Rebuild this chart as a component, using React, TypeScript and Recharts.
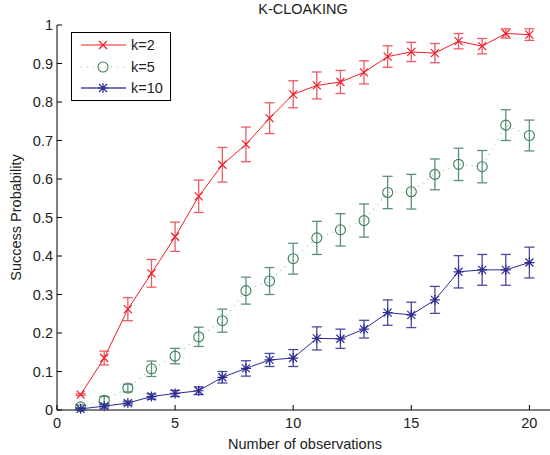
import { LineChart, Line, XAxis, YAxis, ErrorBar } from "recharts";

// observations 1..20
const observations = [1, 2, 3, 4, 5, 6, 7, 8, 9, 10, 11, 12, 13, 14, 15, 16, 17, 18, 19, 20];

const k2 = [0.04, 0.135, 0.262, 0.355, 0.45, 0.555, 0.637, 0.69, 0.758, 0.82, 0.843, 0.852, 0.877, 0.918, 0.93, 0.927, 0.958, 0.945, 0.978, 0.975];
const k2Err = [0.002, 0.018, 0.03, 0.036, 0.038, 0.042, 0.045, 0.045, 0.04, 0.035, 0.035, 0.03, 0.03, 0.028, 0.025, 0.025, 0.02, 0.02, 0.012, 0.015];

const k5 = [0.008, 0.025, 0.057, 0.107, 0.14, 0.19, 0.232, 0.31, 0.335, 0.393, 0.447, 0.468, 0.492, 0.565, 0.567, 0.612, 0.638, 0.632, 0.74, 0.713];
const k5Err = [0.005, 0.01, 0.01, 0.02, 0.02, 0.025, 0.03, 0.035, 0.035, 0.04, 0.043, 0.042, 0.043, 0.042, 0.045, 0.04, 0.042, 0.042, 0.04, 0.04];

const k10 = [0.003, 0.01, 0.018, 0.035, 0.043, 0.05, 0.085, 0.108, 0.13, 0.135, 0.186, 0.185, 0.21, 0.253, 0.247, 0.286, 0.359, 0.364, 0.364, 0.383];
const k10Err = [0.003, 0.005, 0.005, 0.007, 0.008, 0.01, 0.015, 0.02, 0.017, 0.022, 0.03, 0.025, 0.023, 0.033, 0.033, 0.035, 0.042, 0.04, 0.04, 0.04];

const xTicks = [0, 5, 10, 15, 20];
const yTicks = [0, 0.1, 0.2, 0.3, 0.4, 0.5, 0.6, 0.7, 0.8, 0.9, 1];

const data = observations.map((x, i) => ({
  x,
  k2: k2[i],
  k2Err: k2Err[i],
  k5: k5[i],
  k5Err: k5Err[i],
  k10: k10[i],
  k10Err: k10Err[i],
}));

const FONT = '"Liberation Sans", Arial, Helvetica, sans-serif';
const FS = 14.5;
const RED = "#ee1d25";
const GREEN = "#3f7f5c";
const BLUE = "#2c2c92";

function Cross({ cx, cy, color }: { cx: number; cy: number; color: string }) {
  const s = 4;
  return (
    <path
      d={`M${cx - s},${cy - s}L${cx + s},${cy + s}M${cx - s},${cy + s}L${cx + s},${cy - s}`}
      stroke={color}
      strokeWidth={1.2}
      fill="none"
    />
  );
}

function Ring({ cx, cy, color }: { cx: number; cy: number; color: string }) {
  return <circle cx={cx} cy={cy} r={5} stroke={color} strokeWidth={1.1} fill="none" />;
}

function Star({ cx, cy, color }: { cx: number; cy: number; color: string }) {
  const s = 4;
  return (
    <path
      d={`M${cx - s},${cy - s}L${cx + s},${cy + s}M${cx - s},${cy + s}L${cx + s},${cy - s}M${cx - 5},${cy}L${cx + 5},${cy}M${cx},${cy - 5}L${cx},${cy + 5}`}
      stroke={color}
      strokeWidth={1.2}
      fill="none"
    />
  );
}

const fmtY = (v: number) => (v === 0 ? "0" : v === 1 ? "1" : v.toFixed(1));

function YTick(props: any) {
  const { x, y, payload } = props;
  const ax = x + 4;
  return (
    <g>
      <line x1={ax} x2={ax + 5} y1={y} y2={y} stroke="#000" />
      <text x={x} y={y} dy={5} textAnchor="end" fontSize={FS} fontFamily={FONT} fill="#222">
        {fmtY(payload.value)}
      </text>
    </g>
  );
}

function XTick(props: any) {
  const { x, y, payload } = props;
  const ay = y - 18;
  return (
    <g>
      <line x1={x} x2={x} y1={ay} y2={ay - 5} stroke="#000" />
      <text x={x} y={y} textAnchor="middle" fontSize={FS} fontFamily={FONT} fill="#222">
        {payload.value}
      </text>
    </g>
  );
}

function LegendBox() {
  const rows = [
    { label: "k=2", y: 13, line: <line x1={10} x2={55} y1={13} y2={13} stroke={RED} />, mark: <Cross cx={32} cy={13} color={RED} /> },
    { label: "k=5", y: 35, line: <line x1={10} x2={55} y1={35} y2={35} stroke="#9cc0a8" strokeDasharray="1 5" />, mark: <Ring cx={32} cy={35} color={GREEN} /> },
    { label: "k=10", y: 56, line: <line x1={10} x2={55} y1={56} y2={56} stroke="#7474b6" strokeWidth={2} />, mark: <Star cx={32} cy={56} color={BLUE} /> },
  ];
  return (
    <svg width={101} height={70} style={{ display: "block" }}>
      <rect x={0.5} y={0.5} width={99} height={68} fill="#fff" stroke="#000" />
      {rows.map((r) => (
        <g key={r.label}>
          {r.line}
          {r.mark}
          <text x={60} y={r.y} dy={5} fontSize={FS} fontFamily={FONT} fill="#222">
            {r.label}
          </text>
        </g>
      ))}
    </svg>
  );
}

export default function App() {
  return (
    <div style={{ position: "absolute", left: 0, top: 0, width: 550, height: 455, overflow: "hidden", background: "#fff" }}>
      <div
        style={{
          position: "absolute",
          left: 0,
          width: 606,
          top: 0,
          textAlign: "center",
          fontFamily: FONT,
          fontSize: FS,
          lineHeight: "18px",
          color: "#222",
        }}
      >
        K-CLOAKING
      </div>
      <LineChart width={553} height={455} data={data} margin={{ top: 25, right: 0, bottom: 0, left: 0 }}>
        <XAxis
          type="number"
          dataKey="x"
          domain={[0, 21]}
          ticks={xTicks}
          allowDataOverflow
          height={45}
          tickSize={0}
          tickMargin={18}
          tick={<XTick />}
          axisLine={{ stroke: "#000" }}
          label={{ value: "Number of observations", position: "insideBottom", offset: 6, fontSize: FS, fontFamily: FONT, fill: "#222" }}
        />
        <YAxis
          type="number"
          domain={[0, 1]}
          ticks={yTicks}
          width={57}
          tickSize={0}
          tickMargin={4}
          tick={<YTick />}
          axisLine={{ stroke: "#000" }}
          label={({ viewBox }: any) => (
            <text
              x={21}
              y={viewBox.y + viewBox.height / 2}
              transform={`rotate(-90, 21, ${viewBox.y + viewBox.height / 2})`}
              textAnchor="middle"
              fontSize={FS}
              fontFamily={FONT}
              fill="#222"
            >
              Success Probability
            </text>
          )}
        />
        <Line
          dataKey="k2"
          stroke={RED}
          strokeWidth={1}
          isAnimationActive={false}
          dot={(p: any) => <Cross key={`a${p.index}`} cx={p.cx} cy={p.cy} color={RED} />}
        >
          <ErrorBar dataKey="k2Err" width={5} stroke="#ef5b64" strokeWidth={1.3} />
        </Line>
        <Line
          dataKey="k5"
          stroke="#9cc0a8"
          strokeWidth={1.2}
          strokeDasharray="1 5"
          isAnimationActive={false}
          dot={(p: any) => <Ring key={`b${p.index}`} cx={p.cx} cy={p.cy} color={GREEN} />}
        >
          <ErrorBar dataKey="k5Err" width={5} stroke="#5b9274" strokeWidth={1.3} />
        </Line>
        <Line
          dataKey="k10"
          stroke={BLUE}
          strokeWidth={1}
          isAnimationActive={false}
          dot={(p: any) => <Star key={`c${p.index}`} cx={p.cx} cy={p.cy} color={BLUE} />}
        >
          <ErrorBar dataKey="k10Err" width={5} stroke="#4a4aa2" strokeWidth={1.3} />
        </Line>
      </LineChart>
      <div style={{ position: "absolute", left: 71, top: 32 }}>
        <LegendBox />
      </div>
    </div>
  );
}
